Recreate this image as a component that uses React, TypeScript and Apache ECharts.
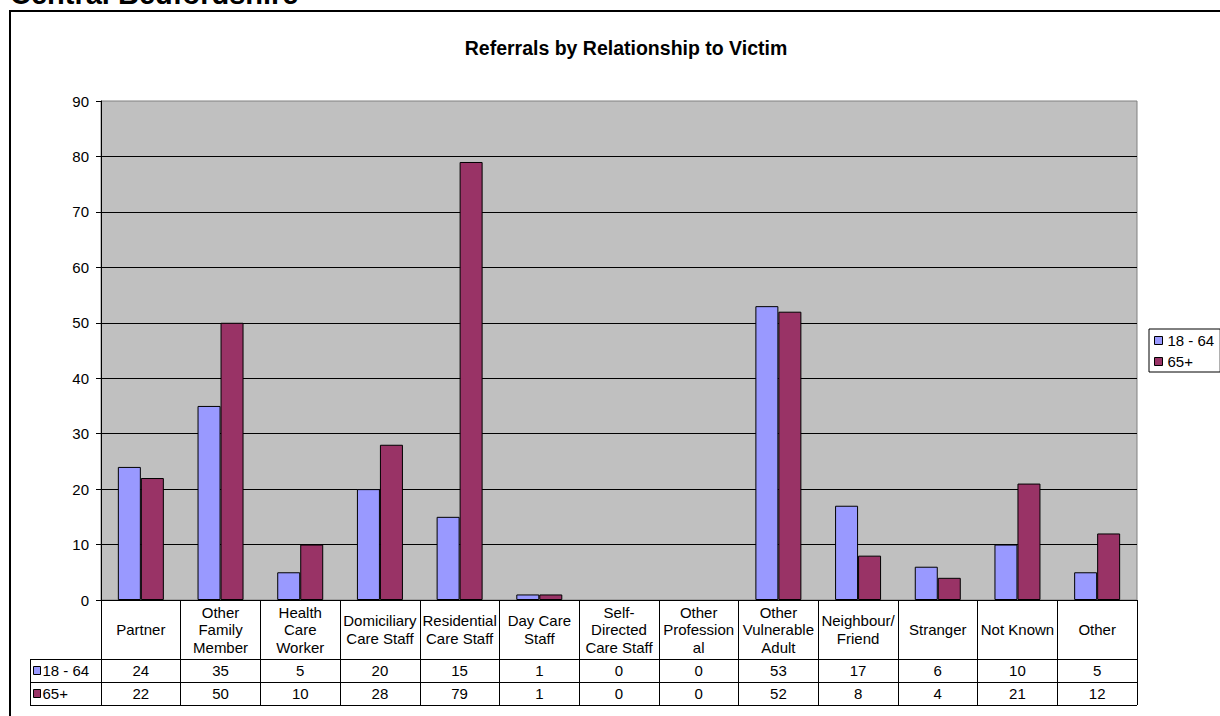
import React, { useEffect, useRef } from "react";
import * as echarts from "echarts";

const chartTitle = "Referrals by Relationship to Victim";
const pageTitle = "Central Bedfordshire";
const categoryLabels = [
  "Partner",
  "Other\nFamily\nMember",
  "Health\nCare\nWorker",
  "Domiciliary\nCare Staff",
  "Residential\nCare Staff",
  "Day Care\nStaff",
  "Self-\nDirected\nCare Staff",
  "Other\nProfession\nal",
  "Other\nVulnerable\nAdult",
  "Neighbour/\nFriend",
  "Stranger",
  "Not Known",
  "Other",
];
const seriesNames = ["18 - 64", "65+"];
const values18to64 = [24, 35, 5, 20, 15, 1, 0, 0, 53, 17, 6, 10, 5];
const values65plus = [22, 50, 10, 28, 79, 1, 0, 0, 52, 8, 4, 21, 12];
const seriesColors = ["#9999FF", "#993366"];
const yTicks = { min: 0, max: 90, interval: 10 };

const FONT = "'Liberation Sans', Arial, Helvetica, sans-serif";

export default function App() {
  const ref = useRef<HTMLDivElement>(null);

  useEffect(() => {
    document.body.style.margin = "0";
    if (!ref.current) return;
    const chart = echarts.init(ref.current, undefined, { renderer: "svg" });

    const gridLeft = 101;
    const gridRight = 1137;
    const gridTop = 101;
    const gridBottom = 600;
    const tableLeft = 30;
    const row1 = 659;
    const row2 = 682;
    const row3 = 705;

    const hLine = (y: number) => ({
      type: "line",
      z: 100,
      shape: { x1: tableLeft, y1: y + 0.5, x2: gridRight, y2: y + 0.5 },
      style: { stroke: "#000", lineWidth: 1 },
    });

    const barData = (vals: number[]) =>
      vals.map((v) => (v === 0 ? { value: v, itemStyle: { borderWidth: 0 } } : v));

    const option: any = {
      animation: false,
      backgroundColor: "#fff",
      textStyle: { fontFamily: FONT },
      title: {
        text: chartTitle,
        left: 621,
        top: 33,
        textAlign: "center",
        textStyle: { fontFamily: FONT, fontSize: 19.5, fontWeight: "bold", color: "#000" },
      },
      legend: [
        {
          data: seriesNames,
          orient: "vertical",
          left: 1149,
          top: 329,
          backgroundColor: "#fff",
          borderColor: "#000",
          borderWidth: 1,
          borderRadius: 0,
          padding: [3, 6, 2, 5],
          itemGap: 4,
          itemWidth: 8,
          itemHeight: 8,
          icon: "rect",
          selectedMode: false,
          itemStyle: { borderColor: "#000", borderWidth: 1 },
          textStyle: { fontFamily: FONT, fontSize: 15, lineHeight: 17, color: "#000" },
        },
        {
          data: seriesNames,
          orient: "vertical",
          left: 33,
          top: 662,
          padding: 0,
          itemGap: 6,
          itemWidth: 7,
          itemHeight: 8,
          icon: "rect",
          selectedMode: false,
          itemStyle: { borderColor: "#000", borderWidth: 1 },
          textStyle: { fontFamily: FONT, fontSize: 15, lineHeight: 17, color: "#000", padding: [0, 0, 0, -3] },
        },
      ],
      grid: {
        left: gridLeft,
        right: 1220 - gridRight,
        top: gridTop,
        bottom: 716 - gridBottom,
        show: true,
        backgroundColor: "#C0C0C0",
        borderColor: "#808080",
        borderWidth: 1,
        containLabel: false,
        outerBoundsMode: "none",
      },
      xAxis: [
        {
          type: "category",
          data: categoryLabels,
          position: "bottom",
          axisLine: { show: true, lineStyle: { color: "#000", width: 1 } },
          axisTick: { show: true, interval: 0, length: row3 - gridBottom, lineStyle: { color: "#000" } },
          axisLabel: {
            interval: 0,
            margin: 29.5,
            verticalAlign: "middle",
            fontFamily: FONT,
            fontSize: 15,
            lineHeight: 17.5,
            color: "#000",
          },
          splitLine: { show: false },
        },
        {
          type: "category",
          data: categoryLabels,
          position: "bottom",
          offset: row1 - gridBottom,
          axisLine: { show: false },
          axisTick: { show: false },
          axisLabel: {
            interval: 0,
            margin: 11.5,
            verticalAlign: "middle",
            fontFamily: FONT,
            fontSize: 15,
            color: "#000",
            formatter: (_v: string, i: number) => String(values18to64[i]),
          },
        },
        {
          type: "category",
          data: categoryLabels,
          position: "bottom",
          offset: row2 - gridBottom,
          axisLine: { show: false },
          axisTick: { show: false },
          axisLabel: {
            interval: 0,
            margin: 11.5,
            verticalAlign: "middle",
            fontFamily: FONT,
            fontSize: 15,
            color: "#000",
            formatter: (_v: string, i: number) => String(values65plus[i]),
          },
        },
      ],
      yAxis: {
        type: "value",
        min: yTicks.min,
        max: yTicks.max,
        interval: yTicks.interval,
        axisLine: { show: true, lineStyle: { color: "#000", width: 1 } },
        axisTick: { show: true, length: 5, lineStyle: { color: "#000" } },
        axisLabel: { margin: 12, fontFamily: FONT, fontSize: 15, color: "#000" },
        splitLine: { show: true, showMaxLine: false, lineStyle: { color: "#000", width: 1 } },
      },
      series: [
        {
          name: seriesNames[0],
          type: "bar",
          data: barData(values18to64),
          barWidth: 23,
          barGap: "0%",
          itemStyle: { color: seriesColors[0], borderColor: "#000", borderWidth: 1 },
        },
        {
          name: seriesNames[1],
          type: "bar",
          data: barData(values65plus),
          barWidth: 23,
          barGap: "0%",
          itemStyle: { color: seriesColors[1], borderColor: "#000", borderWidth: 1 },
        },
      ],
      graphic: [
        {
          type: "text",
          x: 10,
          y: -6,
          z: 100,
          style: {
            text: pageTitle,
            font: `bold 29px ${FONT}`,
            fill: "#000",
            textAlign: "left",
            textVerticalAlign: "middle",
          },
        },
        {
          type: "rect",
          z: 100,
          shape: { x: 10, y: 11, width: 1230, height: 730 },
          style: { fill: "none", stroke: "#000", lineWidth: 2 },
        },
        hLine(row1),
        hLine(row2),
        hLine(row3),
        {
          type: "line",
          z: 100,
          shape: { x1: tableLeft + 0.5, y1: row1, x2: tableLeft + 0.5, y2: row3 + 1 },
          style: { stroke: "#000", lineWidth: 1 },
        },
      ],
    };

    chart.setOption(option);
    return () => chart.dispose();
  }, []);

  return (
    <div
      ref={ref}
      style={{ position: "absolute", left: 0, top: 0, width: 1220, height: 716 }}
    />
  );
}
